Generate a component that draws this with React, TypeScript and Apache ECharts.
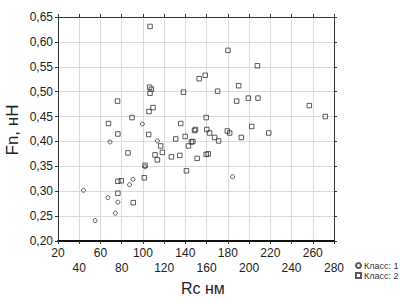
import React, { useEffect, useRef } from "react";
import * as echarts from "echarts";

const class1: [number, number][] = [
  [44, 0.302], [55, 0.241], [67, 0.287], [69, 0.399], [74, 0.256], [76.4, 0.278],
  [87.4, 0.313], [90.6, 0.324], [102, 0.349], [113.6, 0.401], [99.4, 0.435], [184.5, 0.329],
];

const class2: [number, number][] = [
  [67.6, 0.436], [76.4, 0.415], [76.1, 0.481], [76.4, 0.296], [76.4, 0.32], [79.6, 0.321],
  [85.9, 0.377], [89.7, 0.448], [90.9, 0.277], [101.3, 0.327], [102, 0.352],
  [105.4, 0.414], [105.7, 0.46], [106.7, 0.631], [106.3, 0.509], [107.9, 0.505], [106.7, 0.497],
  [109.5, 0.468], [111.4, 0.373], [113.6, 0.363], [116.7, 0.391], [118.3, 0.378],
  [126.8, 0.369], [130.9, 0.405], [134.7, 0.372], [135.6, 0.436], [138.2, 0.499],
  [139.8, 0.41], [141, 0.341], [142.9, 0.391], [145.7, 0.399], [147, 0.4], [148.6, 0.422],
  [149.5, 0.424], [151.1, 0.366], [153, 0.526], [158.7, 0.533], [159.6, 0.448],
  [159.6, 0.374], [161.5, 0.375], [160.2, 0.424], [162.8, 0.417], [167.5, 0.408],
  [170.3, 0.501], [171.3, 0.401], [179.5, 0.421], [181.7, 0.417], [180.1, 0.583],
  [188.3, 0.481], [190.2, 0.512], [192.7, 0.408], [199.3, 0.487], [202.5, 0.43],
  [207.8, 0.552], [208.4, 0.487], [218.5, 0.417], [256.7, 0.472], [271.8, 0.45],
];

const xMin = 20, xMax = 280, xStep = 20;
const yMin = 0.2, yMax = 0.65, yStep = 0.05;
const seriesNames = ["Класс: 1", "Класс: 2"];
const xTitle = "Rc нм";
const yTitle = "Fn, нН";

export default function App() {
  const ref = useRef<HTMLDivElement>(null);
  useEffect(() => {
    if (!ref.current) return;
    const chart = echarts.init(ref.current, undefined, { renderer: "svg" });
    const font = "Liberation Sans, Arial, sans-serif";
    const markStyle = { color: "rgba(255,255,255,0)", borderColor: "#333", borderWidth: 1 };
    chart.setOption({
      animation: false,
      textStyle: { fontFamily: font },
      grid: { left: 58, right: 66, top: 17, bottom: 61 },
      xAxis: [
        {
          type: "value", min: xMin, max: xMax, interval: xStep,
          axisLine: { show: true, onZero: false, lineStyle: { color: "#111", width: 2 } },
          axisTick: { show: true, length: 3, lineStyle: { color: "#333" } },
          splitLine: { show: true, lineStyle: { color: "#dcdcdc" } },
          axisLabel: {
            color: "#222", fontSize: 12, margin: 4, lineHeight: 15,
            formatter: (v: number, i: number) => (i % 2 === 0 ? String(v) : "\n" + v),
          },
        },
        {
          type: "value", position: "top", min: xMin, max: xMax, interval: xStep,
          axisLine: { show: true, lineStyle: { color: "#333" } },
          axisTick: { show: true, length: 3, lineStyle: { color: "#333" } },
          axisLabel: { show: false }, splitLine: { show: false },
        },
      ],
      yAxis: [
        {
          type: "value", min: yMin, max: yMax, interval: yStep,
          axisLine: { show: true, onZero: false, lineStyle: { color: "#333" } },
          axisTick: { show: true, length: 3, lineStyle: { color: "#333" } },
          splitLine: { show: true, lineStyle: { color: "#dcdcdc" } },
          axisLabel: {
            color: "#222", fontSize: 12, margin: 5,
            formatter: (v: number) => v.toFixed(2).replace(".", ","),
          },
        },
        {
          type: "value", position: "right", min: yMin, max: yMax, interval: yStep,
          axisLine: { show: true, lineStyle: { color: "#333" } },
          axisTick: { show: true, length: 3, lineStyle: { color: "#333" } },
          axisLabel: { show: false }, splitLine: { show: false },
        },
      ],
      legend: {
        orient: "vertical", left: 350, top: 256, itemWidth: 5, itemHeight: 5, itemGap: 1,
        textStyle: { fontSize: 9, color: "#333", padding: [0, 0, 0, -2] },
        data: [
          { name: seriesNames[0], icon: "circle" },
          { name: seriesNames[1], icon: "rect" },
        ],
      },
      graphic: [
        {
          type: "text", left: 181, top: 280,
          style: { text: xTitle, font: `16px ${font}`, fill: "#222" },
        },
        {
          type: "text", x: 12, y: 130, rotation: Math.PI / 2,
          style: { text: yTitle, font: `17px ${font}`, fill: "#222", align: "center", verticalAlign: "middle" },
        },
      ],
      series: [
        {
          name: seriesNames[0], type: "scatter", symbol: "circle", symbolSize: 4,
          data: class1, itemStyle: markStyle,
        },
        {
          name: seriesNames[1], type: "scatter", symbol: "rect", symbolSize: 4.5,
          data: class2, itemStyle: markStyle,
        },
      ],
    });
    return () => chart.dispose();
  }, []);
  return <div ref={ref} style={{ width: 400, height: 302, position: "absolute", left: 0, top: 0 }} />;
}
